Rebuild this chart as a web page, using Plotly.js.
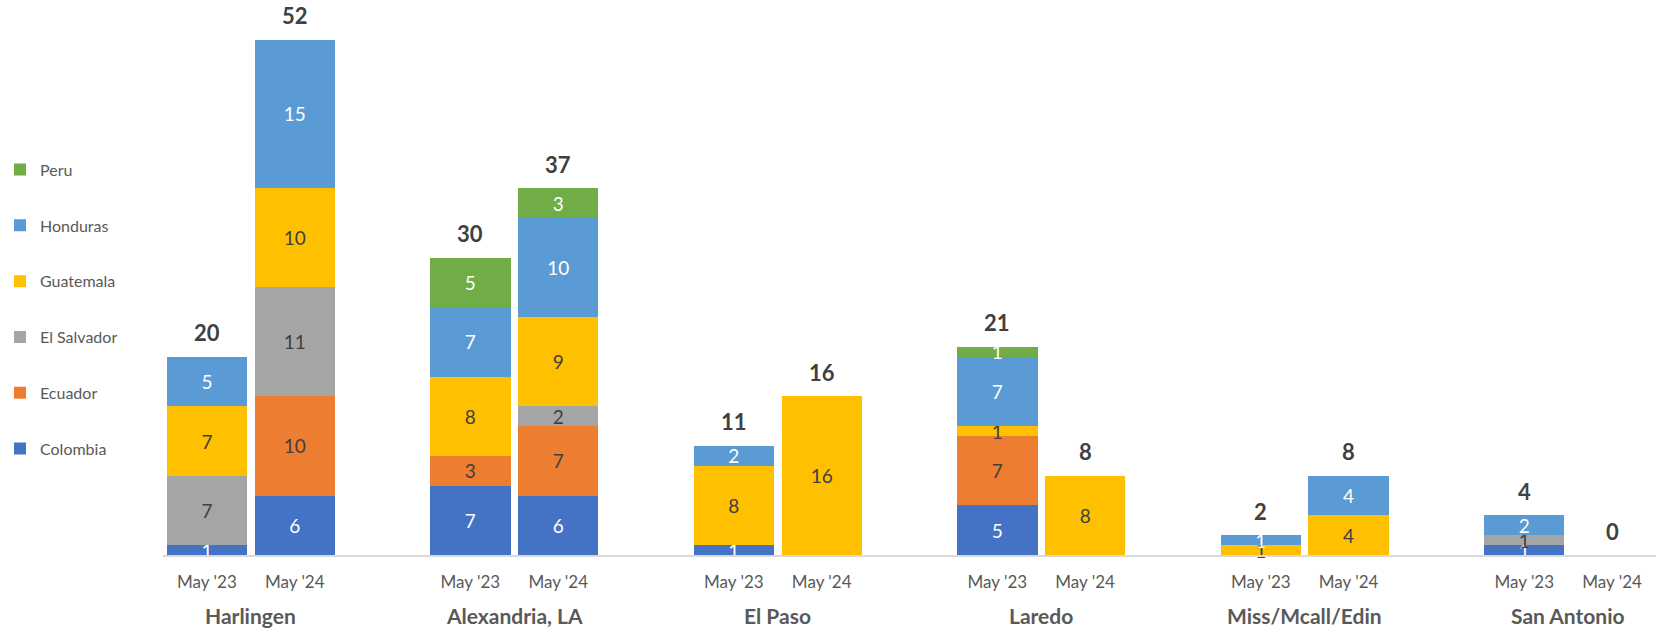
<!DOCTYPE html>
<html>
<head>
<meta charset="utf-8">
<script src="https://cdn.plot.ly/plotly-3.0.1.min.js"></script>
<style>
  html, body { margin: 0; padding: 0; background: #ffffff; }
  #chart { width: 1656px; height: 629px; }
</style>
</head>
<body>
<div id="chart"></div>
<script>
// ---- Data ----
const sites = ["Harlingen", "Alexandria, LA", "El Paso", "Laredo", "Miss/Mcall/Edin", "San Antonio"];
const periods = ["May '23", "May '24"];
// values per bar, order: site1 May'23, site1 May'24, site2 May'23, ...
const colombia   = [1, 6,  7, 6,  1, 0,  5, 0,  0, 0,  1, 0];
const ecuador    = [0, 10, 3, 7,  0, 0,  7, 0,  0, 0,  0, 0];
const elSalvador = [7, 11, 0, 2,  0, 0,  0, 0,  0, 0,  1, 0];
const guatemala  = [7, 10, 8, 9,  8, 16, 1, 8,  1, 4,  0, 0];
const honduras   = [5, 15, 7, 10, 2, 0,  7, 0,  1, 4,  2, 0];
const peru       = [0, 0,  5, 3,  0, 0,  1, 0,  0, 0,  0, 0];

const series = [
  {name: "Colombia",    values: colombia,   color: "#4472C4", text: "#FFFFFF"},
  {name: "Ecuador",     values: ecuador,    color: "#ED7D31", text: "#404040"},
  {name: "El Salvador", values: elSalvador, color: "#A5A5A5", text: "#404040"},
  {name: "Guatemala",   values: guatemala,  color: "#FFC000", text: "#404040"},
  {name: "Honduras",    values: honduras,   color: "#5B9BD5", text: "#FFFFFF"},
  {name: "Peru",        values: peru,       color: "#70AD47", text: "#FFFFFF"}
];

// ---- Category keys (with an empty slot between site groups) ----
const barKeys = [];
const categoryOrder = [];
sites.forEach((s, i) => {
  periods.forEach(p => { barKeys.push(s + "|" + p); categoryOrder.push(s + "|" + p); });
  if (i < sites.length - 1) categoryOrder.push("gap" + i);
});
const tickText = barKeys.map(k => k.split("|")[1]);

const FONT = "Lato, 'Open Sans', sans-serif";

const traces = series.map((s, i) => ({
  type: "bar",
  name: s.name,
  x: barKeys,
  y: s.values,
  text: s.values.map(v => v === 0 ? "" : String(v)),
  textposition: "inside",
  insidetextanchor: "middle",
  textangle: 0,
  constraintext: "none",
  cliponaxis: false,
  textfont: {family: FONT, size: 19, color: s.text},
  marker: {color: s.color, line: {width: 0}},
  legendgroup: s.name,
  legendrank: 1000 + (series.length - i),
  hoverinfo: "none",
  width: 0.915
}));

const totals = barKeys.map((k, i) => series.reduce((a, s) => a + s.values[i], 0));

const annotations = [];
barKeys.forEach((k, i) => {
  annotations.push({
    x: k, y: totals[i], xref: "x", yref: "y",
    text: "<b>" + totals[i] + "</b>", showarrow: false,
    yanchor: "middle", yshift: 24,
    font: {family: FONT, size: 22, color: "#404040"}
  });
});
sites.forEach((s, i) => {
  const idx = categoryOrder.indexOf(s + "|" + periods[0]);
  annotations.push({
    x: idx + 0.5, y: 0, xref: "x", yref: "paper",
    text: "<b>" + s + "</b>", showarrow: false,
    yanchor: "middle", yshift: -60,
    font: {family: FONT, size: 21, color: "#595959"}
  });
});

const layout = {
  width: 1656, height: 629,
  margin: {l: 163, r: 0, t: 0, b: 74, pad: 0},
  paper_bgcolor: "#FFFFFF", plot_bgcolor: "#FFFFFF",
  barmode: "stack",
  showlegend: true,
  legend: {
    x: -163 / 1493, xanchor: "left",
    y: 0.725, yanchor: "top",
    traceorder: "grouped",
    tracegroupgap: 32,
    font: {family: FONT, size: 16, color: "#595959"},
    bgcolor: "rgba(0,0,0,0)"
  },
  uniformtext: {mode: "show", minsize: 19},
  xaxis: {
    type: "category",
    categoryorder: "array",
    categoryarray: categoryOrder,
    range: [-0.5, categoryOrder.length - 0.5],
    tickvals: barKeys,
    ticktext: tickText,
    ticks: "",
    showgrid: false,
    zeroline: false,
    showline: true,
    linecolor: "#D9D9D9",
    linewidth: 2,
    ticklabelstandoff: 11,
    tickfont: {family: FONT, size: 17, color: "#595959"},
    fixedrange: true
  },
  yaxis: {
    range: [0, 56],
    visible: false,
    showgrid: false,
    zeroline: false,
    fixedrange: true
  },
  annotations: annotations
};

Plotly.newPlot("chart", traces, layout, {displayModeBar: false, staticPlot: true});
</script>
</body>
</html>
